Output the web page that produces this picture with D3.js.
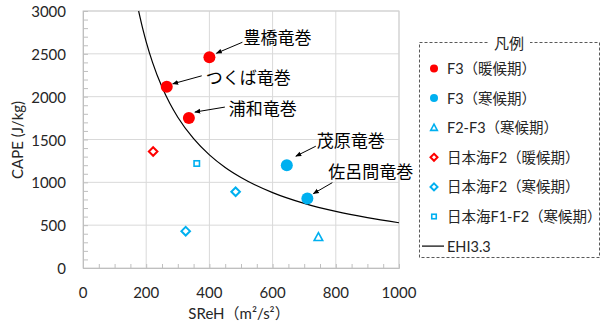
<!DOCTYPE html>
<html><head><meta charset="utf-8">
<script src="https://cdn.jsdelivr.net/npm/d3@7"></script>
<style>body{margin:0;background:#fff;} svg{display:block;font-family:Lato,"Noto Sans CJK JP",sans-serif;}</style>
</head><body><svg id="c" width="601" height="333"></svg>
<script>
// ---- data ----
const xTicks = [0, 200, 400, 600, 800, 1000];
const yTicks = [0, 500, 1000, 1500, 2000, 2500, 3000];
const seriesNames = ["F3（暖候期）", "F3（寒候期）", "F2-F3（寒候期）", "日本海F2（暖候期）", "日本海F2（寒候期）", "日本海F1-F2（寒候期）"];
const ehiName = "EHI3.3";
const f3WarmSReH = [400, 265, 335];
const f3WarmCAPE = [2460, 2115, 1750];
const f3ColdSReH = [645, 710];
const f3ColdCAPE = [1200, 810];
const f2f3ColdSReH = [745];
const f2f3ColdCAPE = [360];
const jsF2WarmSReH = [222];
const jsF2WarmCAPE = [1360];
const jsF2ColdSReH = [325, 483];
const jsF2ColdCAPE = [430, 890];
const jsF1F2ColdSReH = [360];
const jsF1F2ColdCAPE = [1220];
const ehiSReH = [176, 190, 200, 220, 250, 275, 300, 350, 400, 450, 500, 600, 700, 800, 900, 1000];
const ehiCAPE = [3000, 2779, 2640, 2400, 2112, 1920, 1760, 1509, 1320, 1173, 1056, 880, 754, 660, 587, 528];
const annotationNames = ["豊橋竜巻", "つくば竜巻", "浦和竜巻", "茂原竜巻", "佐呂間竜巻"];

// ---- layout / style ----
const RED = "#FF0000", BLUE = "#00B0F0";
const svg = d3.select("#c");
const L = 83, R = 399, T = 11, B = 268;
const x = d3.scaleLinear().domain([0, 1000]).range([L, R]);
const y = d3.scaleLinear().domain([0, 3000]).range([B, T]);
const zip = (a, b) => a.map((v, i) => [v, b[i]]);

// grid
svg.append("g").selectAll("line").data(xTicks.slice(1)).join("line")
  .attr("x1", d => x(d)).attr("x2", d => x(d)).attr("y1", T).attr("y2", B)
  .attr("stroke", "#d9d9d9").attr("stroke-width", 1);
svg.append("g").selectAll("line").data(yTicks.slice(1)).join("line")
  .attr("x1", L).attr("x2", R).attr("y1", d => y(d)).attr("y2", d => y(d))
  .attr("stroke", "#d9d9d9").attr("stroke-width", 1);
svg.append("rect").attr("x", L).attr("y", T).attr("width", R - L).attr("height", B - T)
  .attr("fill", "none").attr("stroke", "#d0d0d0");

// axes with minor inner ticks
const xAx = d3.axisBottom(x).tickValues(d3.range(0, 1001, 50)).tickSize(-4).tickFormat("");
const gx = svg.append("g").attr("transform", `translate(0,${B})`).call(xAx);
const yAx = d3.axisLeft(y).tickValues(d3.range(0, 3001, 100)).tickSize(-5).tickFormat("");
const gy = svg.append("g").attr("transform", `translate(${L},0)`).call(yAx);
[gx, gy].forEach(g => { g.selectAll("line,path").attr("stroke", "#bfbfbf"); });

// tick labels
svg.append("g").selectAll("text").data(xTicks).join("text")
  .attr("x", d => x(d)).attr("y", 292).attr("text-anchor", "middle").attr("dominant-baseline", "central")
  .attr("font-size", 15).attr("fill", "#262626").text(d => d);
svg.append("g").selectAll("text").data(yTicks).join("text")
  .attr("x", 66).attr("y", d => y(d)).attr("text-anchor", "end").attr("dominant-baseline", "central")
  .attr("font-size", 15).attr("fill", "#262626").text(d => d);

// axis titles
svg.append("text").attr("transform", "translate(17,140) rotate(-90)").attr("text-anchor", "middle")
  .attr("dominant-baseline", "central").attr("font-size", 15).attr("fill", "#262626").text("CAPE (J/kg)");
svg.append("text").attr("x", 239).attr("y", 313).attr("text-anchor", "middle")
  .attr("dominant-baseline", "central").attr("font-size", 15).attr("fill", "#262626").text("SReH（m²/s²）");

// EHI curve
svg.append("path").datum(zip(ehiSReH, ehiCAPE))
  .attr("d", d3.line().x(d => x(d[0])).y(d => y(d[1])).curve(d3.curveMonotoneX))
  .attr("fill", "none").attr("stroke", "#000").attr("stroke-width", 1.2);

// markers
function marker(g, type, color, s) {
  if (type === "circle") g.append("circle").attr("r", s).attr("fill", color);
  else if (type === "tri") g.append("path").attr("d", `M0,${-s}L${s * 0.95},${s * 0.75}L${-s * 0.95},${s * 0.75}Z`).attr("fill", "#fff").attr("stroke", color).attr("stroke-width", 1.6);
  else if (type === "diamond") g.append("path").attr("d", `M0,${-s}L${s},0L0,${s}L${-s},0Z`).attr("fill", "#fff").attr("stroke", color).attr("stroke-width", 2);
  else if (type === "square") g.append("rect").attr("x", -s * 0.75).attr("y", -s * 0.75).attr("width", s * 1.5).attr("height", s * 1.5).attr("fill", "#fff").attr("stroke", color).attr("stroke-width", 1.6);
}
const series = [
  { sx: f3WarmSReH, sy: f3WarmCAPE, type: "circle", color: RED, size: 6 },
  { sx: f3ColdSReH, sy: f3ColdCAPE, type: "circle", color: BLUE, size: 6 },
  { sx: f2f3ColdSReH, sy: f2f3ColdCAPE, type: "tri", color: BLUE, size: 4.5 },
  { sx: jsF2WarmSReH, sy: jsF2WarmCAPE, type: "diamond", color: RED, size: 4.3 },
  { sx: jsF2ColdSReH, sy: jsF2ColdCAPE, type: "diamond", color: BLUE, size: 4.3 },
  { sx: jsF1F2ColdSReH, sy: jsF1F2ColdCAPE, type: "square", color: BLUE, size: 3.6 }
];
series.forEach(s => {
  zip(s.sx, s.sy).forEach(p => {
    const g = svg.append("g").attr("transform", `translate(${x(p[0])},${y(p[1])})`);
    marker(g, s.type, s.color, s.size);
  });
});

// annotations (pixel offsets from the point)
const annPoints = [
  [f3WarmSReH[0], f3WarmCAPE[0]], [f3WarmSReH[1], f3WarmCAPE[1]], [f3WarmSReH[2], f3WarmCAPE[2]],
  [f3ColdSReH[0], f3ColdCAPE[0]], [f3ColdSReH[1], f3ColdCAPE[1]]
];
const annLayout = [
  { tx: 34, ty: -20, ax: 33, ay: -15, hx: 7, hy: -4 },
  { tx: 39, ty: -9, ax: 35, ay: -11, hx: 6, hy: -3 },
  { tx: 40, ty: -10, ax: 36, ay: -11, hx: 6, hy: -6 },
  { tx: 30, ty: -25, ax: 29, ay: -19, hx: 9, hy: -9 },
  { tx: 21, ty: -27, ax: 25, ay: -16, hx: 6, hy: -5 }
];
svg.append("defs").append("marker").attr("id", "ah").attr("viewBox", "0 0 10 10")
  .attr("refX", 9).attr("refY", 5).attr("markerWidth", 6).attr("markerHeight", 6)
  .attr("orient", "auto").attr("markerUnits", "userSpaceOnUse")
  .append("path").attr("d", "M0,1L10,5L0,9Z").attr("fill", "#000");
annotationNames.forEach((name, i) => {
  const px = x(annPoints[i][0]), py = y(annPoints[i][1]), l = annLayout[i];
  svg.append("line").attr("x1", px + l.ax).attr("y1", py + l.ay).attr("x2", px + l.hx).attr("y2", py + l.hy)
    .attr("stroke", "#000").attr("stroke-width", 1).attr("marker-end", "url(#ah)");
  svg.append("text").attr("x", px + l.tx).attr("y", py + l.ty).attr("dominant-baseline", "central")
    .attr("font-size", 17).attr("fill", "#000").text(name);
});

// legend
const lg = svg.append("g");
lg.append("rect").attr("x", 419.5).attr("y", 42.5).attr("width", 180).attr("height", 215)
  .attr("fill", "#fff").attr("stroke", "#595959").attr("stroke-dasharray", "3,2").attr("stroke-width", 1);
lg.append("rect").attr("x", 488).attr("y", 34).attr("width", 42).attr("height", 18).attr("fill", "#fff");
lg.append("text").attr("x", 509).attr("y", 43).attr("text-anchor", "middle").attr("dominant-baseline", "central")
  .attr("font-size", 15).attr("fill", "#262626").text("凡例");
const legendSizes = [4, 4, 3.5, 3.5, 3.5, 3];
series.forEach((s, i) => {
  const yy = 68.5 + i * 29.6;
  const g = lg.append("g").attr("transform", `translate(434,${yy})`);
  marker(g, s.type, s.color, legendSizes[i]);
  lg.append("text").attr("x", 447).attr("y", yy).attr("dominant-baseline", "central")
    .attr("font-size", 14.5).attr("fill", "#262626").text(seriesNames[i]);
});
const ey = 68.5 + 6 * 29.6;
lg.append("line").attr("x1", 422).attr("x2", 444).attr("y1", ey).attr("y2", ey).attr("stroke", "#000").attr("stroke-width", 1.2);
lg.append("text").attr("x", 447).attr("y", ey).attr("dominant-baseline", "central")
  .attr("font-size", 14.5).attr("fill", "#262626").text(ehiName);
</script></body></html>
